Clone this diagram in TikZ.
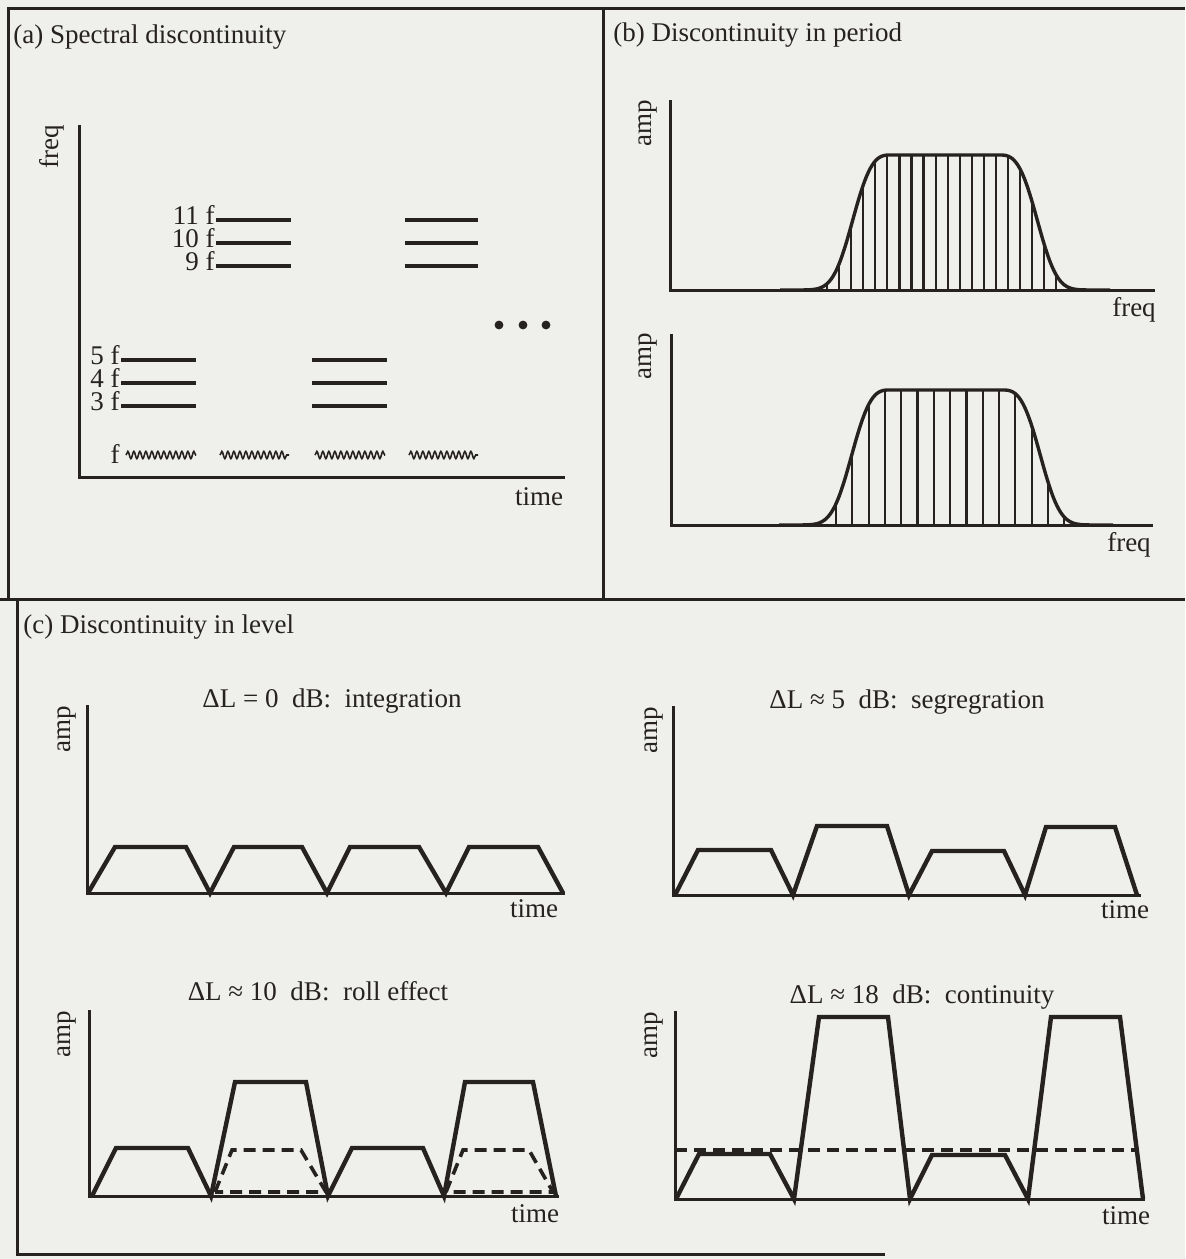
\documentclass[tikz,border=0pt]{standalone}
\usepackage{fontspec}
\setmainfont{Liberation Serif}
\usepackage{tikz}
\usetikzlibrary{decorations.pathmorphing}
\definecolor{paper}{RGB}{239,239,236}
\definecolor{ink}{RGB}{38,34,31}

\begin{document}
\begin{tikzpicture}[x=0.5pt,y=-0.5pt,
  lab/.style={font=\fontsize{13.5}{16}\selectfont, text=ink, inner sep=0pt},
  hlab/.style={lab, text height=9pt, text depth=0pt, anchor=mid east},
  panel/.style={draw=ink, line width=1.5pt},
  axisline/.style={draw=ink, line width=1.5pt, line cap=rect},
  harm/.style={draw=ink, line width=2.1pt},
  buzz/.style={draw=ink, line width=0.8pt, decorate, decoration={snake, segment length=3pt, amplitude=1.8pt}},
  env/.style={draw=ink, line width=1.7pt, line join=round},
  comp/.style={draw=ink, line width=1.1pt},
  burst/.style={draw=ink, line width=2.2pt, line join=miter},
  roll/.style={draw=ink, line width=1.8pt, dash pattern=on 6pt off 3.5pt}]
\fill[paper] (0,0) rectangle (1185,1259);
\useasboundingbox (0,0) rectangle (1185,1259);
\draw[panel] (8,599) -- (8,8) -- (1185,8);
\draw[panel] (603,8) -- (603,599);
\draw[panel] (0,599) -- (1185,599);
\draw[panel] (17,599) -- (17,1254) -- (885,1254);

\node[lab, anchor=base west] (ttla) at (13,43) {(a) Spectral discontinuity};
\node[lab, rotate=90] (freqa) at (52,147) {freq};
\draw[axisline] (79,126) -- (79,477) -- (563,477);
\node[lab, anchor=base] (timea) at (539,505) {time};
\node[hlab] (h11) at (215,220) {11 f};
\node[hlab] (h10) at (215,243) {10 f};
\node[hlab] (h9)  at (215,266) {9 f};
\node[hlab] (h5)  at (120,360) {5 f};
\node[hlab] (h4)  at (120,383) {4 f};
\node[hlab] (h3)  at (120,406) {3 f};
\foreach \n in {h11,h10,h9,h5,h4,h3}
  \draw[harm] (\n.mid east) ++(1,0) -- ++(75,0);
\foreach \y in {220,243,266} \draw[harm] (405,\y) -- (478,\y);
\foreach \y in {360,383,406} \draw[harm] (312,\y) -- (387,\y);
\node[lab, anchor=base east] (h1) at (120,463) {f};
\foreach \a/\b in {126/196,220/289,315/385,409/478}
  \draw[buzz] (\a,455) -- (\b,455);
\foreach \x in {499,523,546} \fill[ink] (\x,325) circle (2.2pt);

\node[lab, anchor=base west] (ttlb) at (613,41) {(b) Discontinuity in period};
\node[lab, rotate=90] (ampb1) at (648,123) {amp};
\draw[axisline] (670,101) -- (670,290) -- (1153,290);
\node[lab, anchor=base] (freqb1) at (1134,316) {freq};
\foreach \k in {0,...,19} {
  \pgfmathsetmacro\xx{827+12.07*\k}
  \pgfmathsetmacro\hh{exp(-((max(0,891-\xx)/44)^3))*exp(-((max(0,\xx-999)/44)^3))}
  \draw[comp] (\xx,290) -- (\xx,{290-135*\hh});
}
\draw[env] plot[domain=780:891, samples=60] (\x,{290-135*exp(-(((891-\x)/44)^3))}) -- (999,155)
  -- plot[domain=999:1110, samples=60] (\x,{290-135*exp(-(((\x-999)/44)^3))});
\node[lab, rotate=90] (ampb2) at (648,356) {amp};
\draw[axisline] (671,335) -- (671,525) -- (1151,525);
\node[lab, anchor=base] (freqb2) at (1129,551) {freq};
\foreach \k in {0,...,14} {
  \pgfmathsetmacro\xx{836+16.3*\k}
  \pgfmathsetmacro\hh{exp(-((max(0,890-\xx)/44)^3))*exp(-((max(0,\xx-1002)/44)^3))}
  \draw[comp] (\xx,525) -- (\xx,{525-135*\hh});
}
\draw[env] plot[domain=779:890, samples=60] (\x,{525-135*exp(-(((890-\x)/44)^3))}) -- (1002,390)
  -- plot[domain=1002:1113, samples=60] (\x,{525-135*exp(-(((\x-1002)/44)^3))});

\node[lab, anchor=base west] (ttlc) at (23,633) {(c) Discontinuity in level};
\node[lab, anchor=base] (dl0) at (332,707) {ΔL = 0\ \ dB:\ \ integration};
\node[lab, rotate=90] (ampc1) at (67,729) {amp};
\draw[axisline] (87,706) -- (87,893) -- (563,893);
\draw[burst] (88,893) -- (115,847) -- (186,847) -- (210,893) -- (234,847) -- (302,847) -- (327,893)
  -- (350,847) -- (419,847) -- (446,893) -- (469,847) -- (538,847) -- (563,893);
\node[lab, anchor=base] (timec1) at (534,917) {time};

\node[lab, anchor=base] (dl5) at (907,708) {ΔL ≈ 5\ \ dB:\ \ segregration};
\node[lab, rotate=90] (ampc2) at (654,730) {amp};
\draw[axisline] (673,707) -- (673,895) -- (1139,895);
\draw[burst] (675,895) -- (698,850) -- (771,850) -- (793,895) -- (817,826) -- (887,826) -- (909,895)
  -- (932,851) -- (1004,851) -- (1025,895) -- (1046,827) -- (1115,827) -- (1137,895);
\node[lab, anchor=base] (timec2) at (1125,918) {time};

\node[lab, anchor=base] (dl10) at (318,1000) {ΔL ≈ 10\ \ dB:\ \ roll effect};
\node[lab, rotate=90] (ampc3) at (67,1034) {amp};
\draw[axisline] (89,1011) -- (89,1196) -- (557,1196);
\draw[burst] (92,1196) -- (116,1148) -- (188,1148) -- (211,1196) -- (235,1082) -- (306,1082) -- (328,1196)
  -- (352,1148) -- (423,1148) -- (444,1196) -- (465,1082) -- (533,1082) -- (556,1196);
\draw[roll] (215,1192) -- (232,1150) -- (301,1150) -- (326,1192) -- cycle;
\draw[roll] (446,1192) -- (463,1150) -- (529,1150) -- (553,1192) -- cycle;
\node[lab, anchor=base] (timec3) at (535,1222) {time};

\node[lab, anchor=base] (dl18) at (922,1003) {ΔL ≈ 18\ \ dB:\ \ continuity};
\node[lab, rotate=90] (ampc4) at (654,1035) {amp};
\draw[axisline] (675,1012) -- (675,1199) -- (1143,1199);
\draw[burst] (676,1199) -- (699,1154) -- (770,1154) -- (794,1199) -- (819,1017) -- (888,1017) -- (910,1199)
  -- (932,1155) -- (1005,1155) -- (1028,1199) -- (1051,1017) -- (1120,1017) -- (1143,1199);
\draw[roll] (675,1150) -- (1137,1150);
\node[lab, anchor=base] (timec4) at (1126,1224) {time};
\end{tikzpicture}
\end{document}
